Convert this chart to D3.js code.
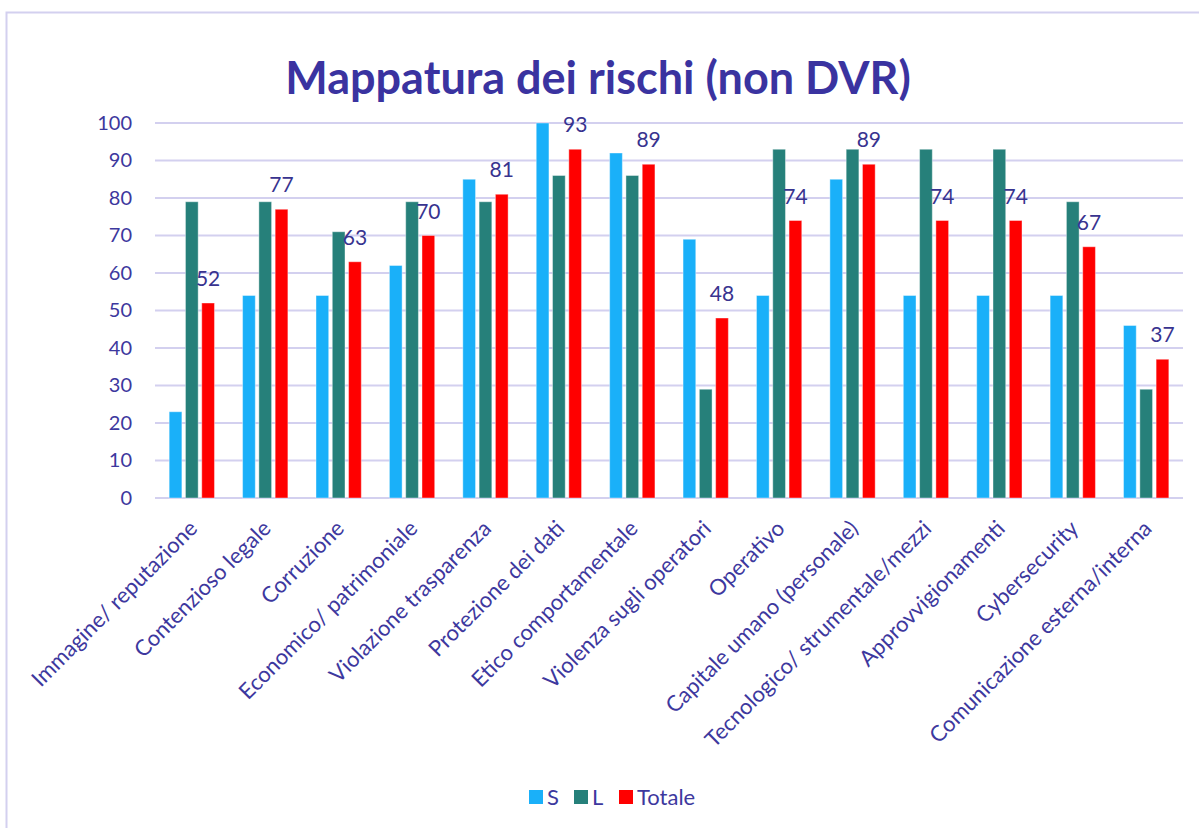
<!DOCTYPE html>
<html>
<head>
<meta charset="utf-8">
<script src="https://cdn.jsdelivr.net/npm/d3@7"></script>
<style>
  body { margin: 0; background: #fff; }
  text { font-family: Lato, "Open Sans", sans-serif; }
</style>
</head>
<body>
<div id="chart"></div>
<script>
// categories and series values
const categories = ['Immagine/ reputazione', 'Contenzioso legale', 'Corruzione', 'Economico/ patrimoniale',
    'Violazione trasparenza', 'Protezione dei dati', 'Etico comportamentale', 'Violenza sugli operatori',
    'Operativo', 'Capitale umano (personale)', 'Tecnologico/ strumentale/mezzi', 'Approvvigionamenti',
    'Cybersecurity', 'Comunicazione esterna/interna'];
const valuesS = [23, 54, 54, 62, 85, 100, 92, 69, 54, 85, 54, 54, 54, 46];
const valuesL = [79, 79, 71, 79, 79, 86, 86, 29, 93, 93, 93, 93, 79, 29];
const valuesTot = [52, 77, 63, 70, 81, 93, 89, 48, 74, 89, 74, 74, 67, 37];
const seriesNames = ['S', 'L', 'Totale'];
const yTicks = [0, 10, 20, 30, 40, 50, 60, 70, 80, 90, 100];

const colors = { 'S': '#1ab0f9', 'L': '#26807a', 'Totale': '#ff0000' };
const textColor = '#3d389e';

const width = 1199, height = 828;
const margin = { top: 123, right: 16, bottom: 330, left: 155 };

const svg = d3.select('#chart').append('svg')
    .attr('width', width)
    .attr('height', height);

// chart frame
svg.append('rect')
    .attr('x', 6.5).attr('y', 12.5)
    .attr('width', 1300).attr('height', 900)
    .attr('fill', 'none')
    .attr('stroke', '#d3d0ef')
    .attr('stroke-width', 2);

const table = categories.map((c, i) => ({
    cat: c,
    vals: [
        { key: 'S', value: valuesS[i] },
        { key: 'L', value: valuesL[i] },
        { key: 'Totale', value: valuesTot[i] }
    ]
}));

const x0 = d3.scaleBand()
    .domain(categories)
    .range([margin.left, width - margin.right])
    .paddingInner(0.383)
    .paddingOuter(0.193);

const x1 = d3.scaleBand()
    .domain(seriesNames)
    .range([0, x0.bandwidth()])
    .paddingInner(0.22);

const y = d3.scaleLinear()
    .domain([0, 100])
    .range([height - margin.bottom, margin.top]);

// gridlines
svg.append('g')
    .selectAll('line')
    .data(yTicks)
    .join('line')
    .attr('x1', margin.left)
    .attr('x2', width - margin.right)
    .attr('y1', d => y(d))
    .attr('y2', d => y(d))
    .attr('stroke', '#d3d0ef')
    .attr('stroke-width', 2);

// y axis labels
const yAxis = d3.axisLeft(y).tickValues(yTicks).tickSize(0).tickPadding(23);
svg.append('g')
    .attr('transform', `translate(${margin.left},0)`)
    .call(yAxis)
    .call(g => g.select('.domain').remove())
    .call(g => g.selectAll('text')
        .attr('fill', textColor)
        .style('font-size', '20px'));

// bars
const groups = svg.append('g')
    .selectAll('g')
    .data(table)
    .join('g')
    .attr('transform', d => `translate(${x0(d.cat)},0)`);

groups.selectAll('rect')
    .data(d => d.vals)
    .join('rect')
    .attr('x', d => x1(d.key))
    .attr('width', x1.bandwidth())
    .attr('y', d => y(d.value))
    .attr('height', d => y(0) - y(d.value))
    .attr('fill', d => colors[d.key])
    .attr('stroke', '#ffffff')
    .attr('stroke-opacity', 0.4)
    .attr('stroke-width', 1);

// data labels on Totale
groups.append('text')
    .attr('x', d => x1('Totale') + x1.bandwidth() / 2)
    .attr('y', d => y(d.vals[2].value) - 17)
    .attr('text-anchor', 'middle')
    .attr('fill', '#38338f')
    .style('font-size', '21px')
    .text(d => d.vals[2].value);

// x axis labels, rotated
svg.append('g')
    .selectAll('text')
    .data(categories)
    .join('text')
    .attr('transform', d => `translate(${x0(d) + x0.bandwidth() / 2 - 4},${y(0) + 21}) rotate(-45)`)
    .attr('text-anchor', 'end')
    .attr('dy', '0.7em')
    .attr('fill', textColor)
    .style('font-size', '22px')
    .text(d => d);

// title
svg.append('text')
    .attr('x', 598)
    .attr('y', 94)
    .attr('text-anchor', 'middle')
    .attr('fill', '#3a33a0')
    .style('font-size', '45px')
    .style('font-weight', 'bold')
    .text('Mappatura dei rischi (non DVR)');

// legend
const legend = svg.append('g')
    .attr('transform', 'translate(529,790)');
const legendX = [0, 45, 90];
seriesNames.forEach((s, i) => {
    const item = legend.append('g').attr('transform', `translate(${legendX[i]},0)`);
    item.append('rect')
        .attr('width', 14).attr('height', 14)
        .attr('fill', colors[s]);
    item.append('text')
        .attr('x', 18)
        .attr('y', 15)
        .attr('fill', textColor)
        .style('font-size', '22px')
        .text(s);
});
</script>
</body>
</html>
